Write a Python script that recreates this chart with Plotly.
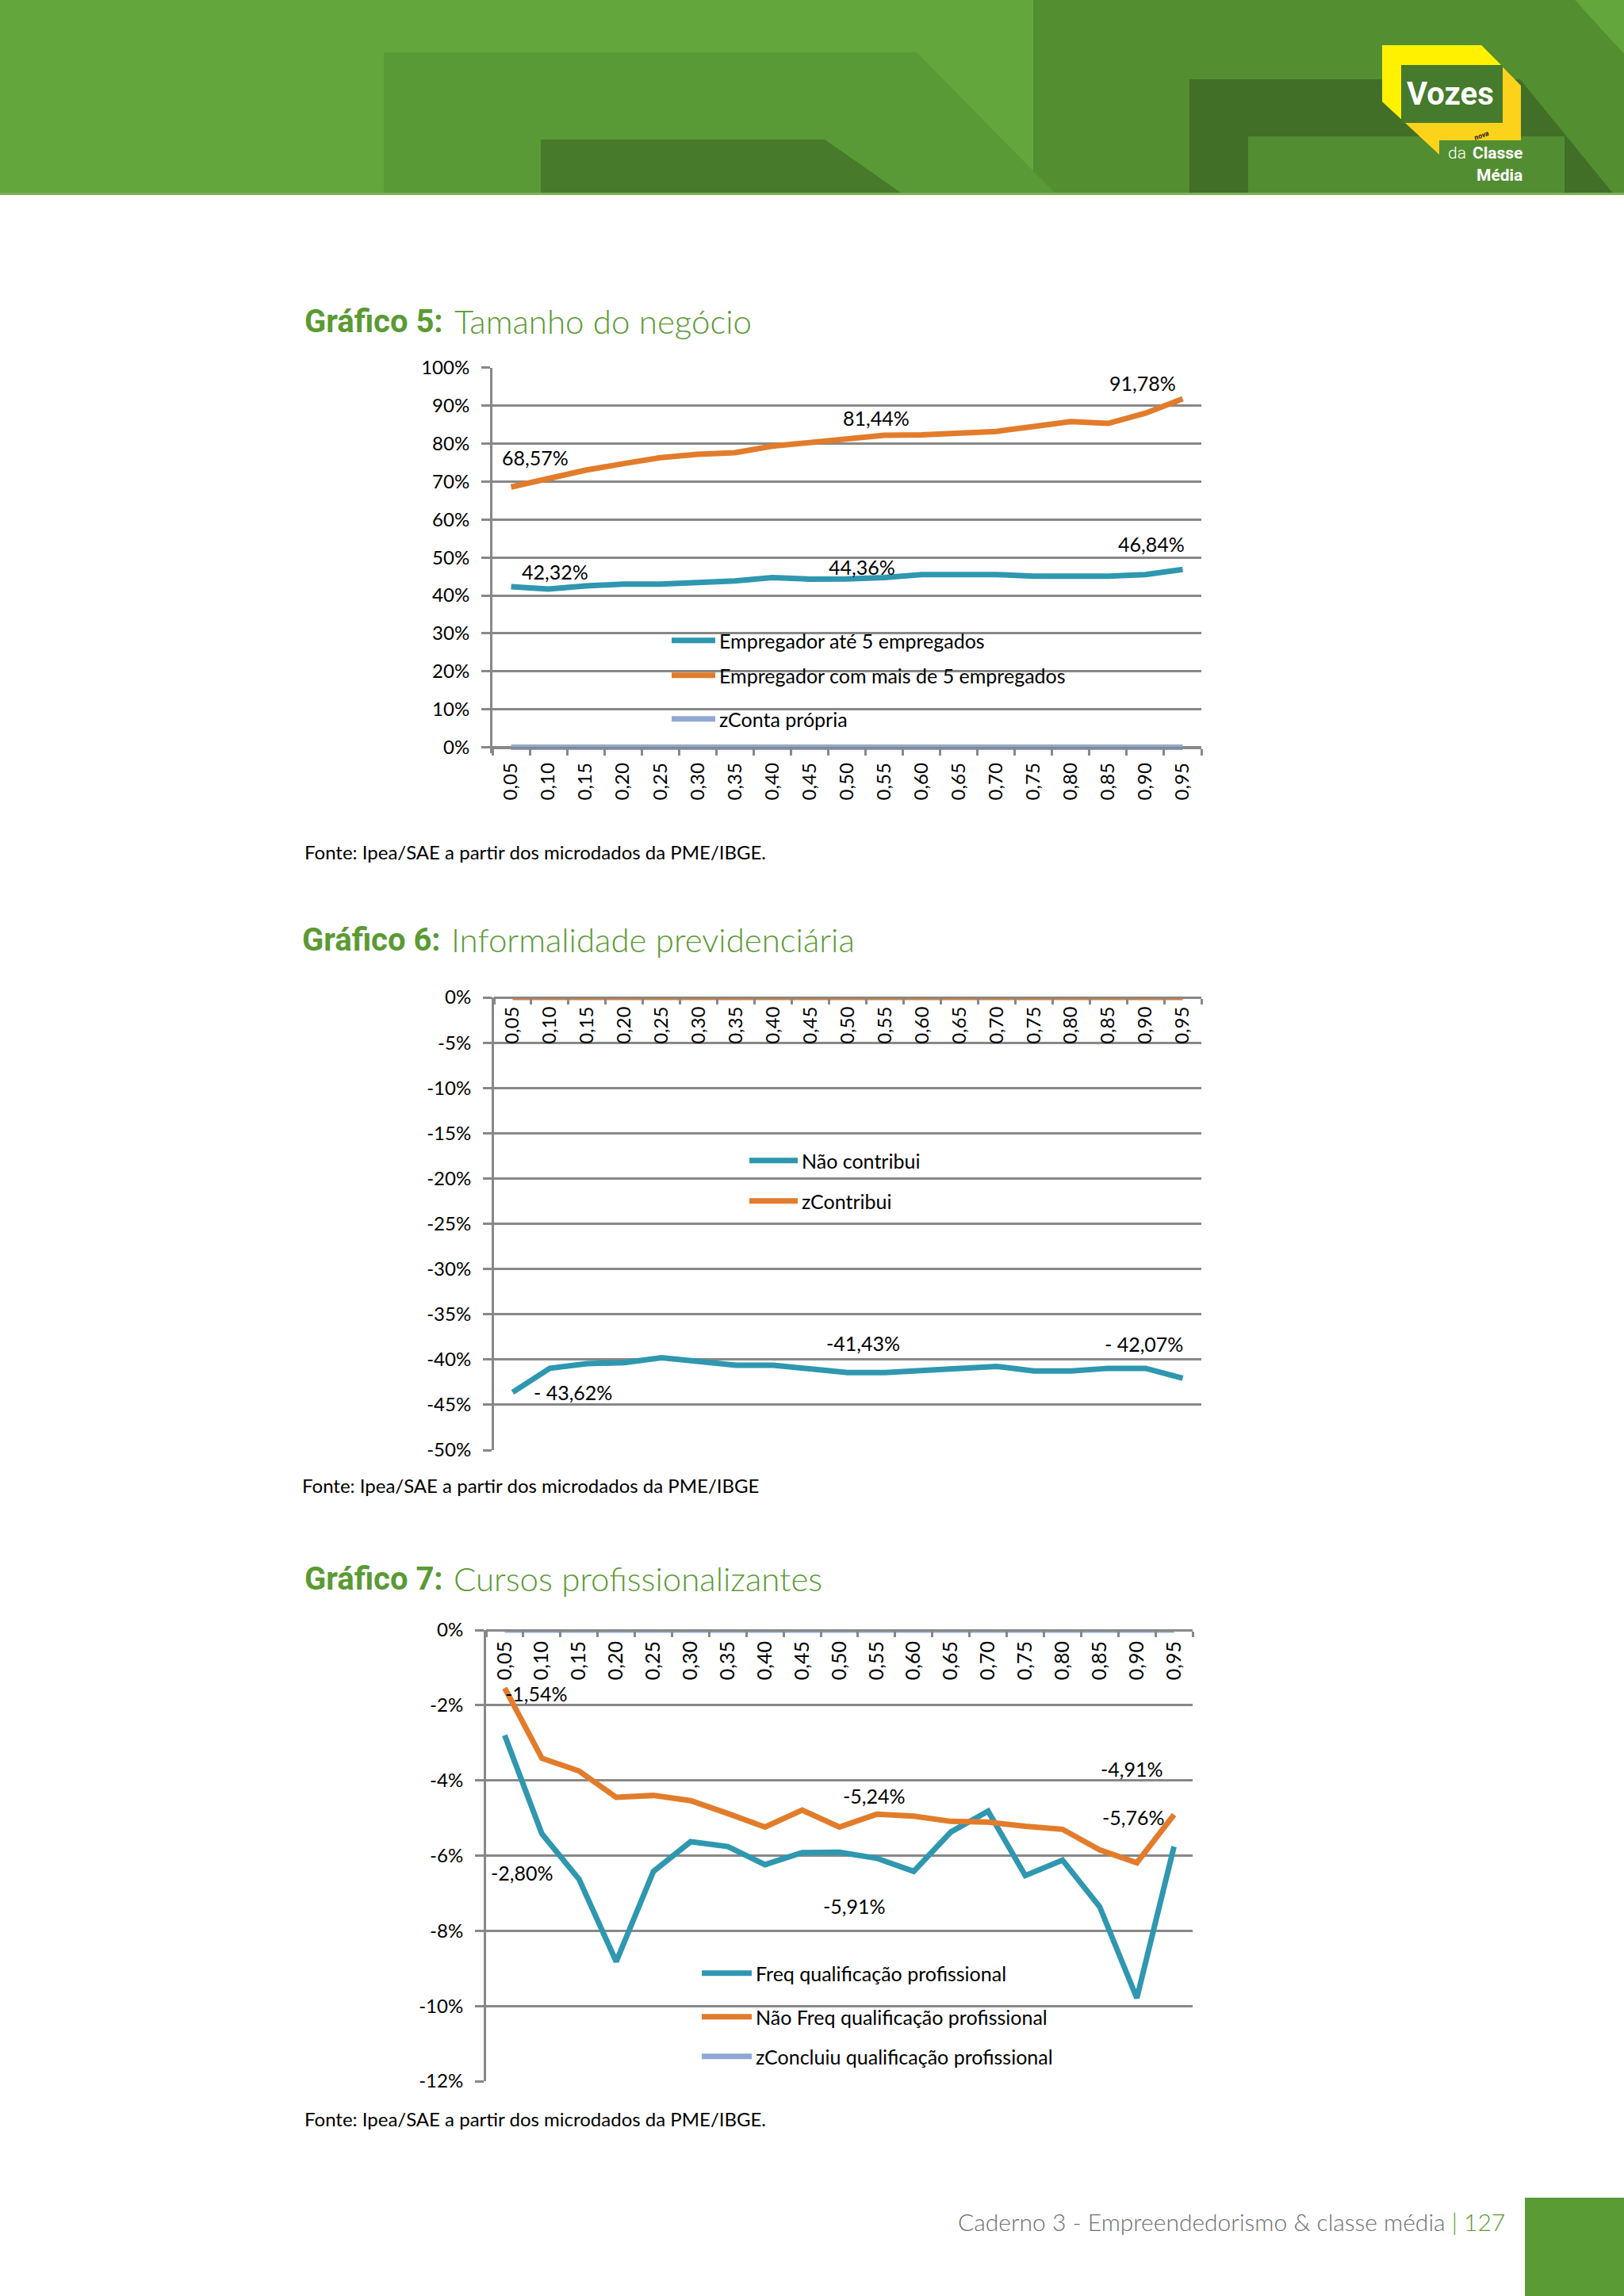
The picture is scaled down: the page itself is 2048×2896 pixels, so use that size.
import plotly.graph_objects as go

W, H = 2048, 2896


def px(x):
    return x / W


def py(y):
    return 1 - y / H


# ---------------- data ----------------
cats = ["0,05", "0,10", "0,15", "0,20", "0,25", "0,30", "0,35", "0,40", "0,45", "0,50",
        "0,55", "0,60", "0,65", "0,70", "0,75", "0,80", "0,85", "0,90", "0,95"]

# Gráfico 5
g5_ate5 = [42.32, 41.7, 42.5, 43.0, 43.0, 43.4, 43.8, 44.7, 44.3, 44.36,
           44.7, 45.5, 45.5, 45.5, 45.1, 45.1, 45.1, 45.5, 46.84]
g5_mais5 = [68.57, 70.9, 73.0, 74.7, 76.3, 77.2, 77.6, 79.3, 80.2, 81.44,
            82.2, 82.3, 82.7, 83.2, 84.5, 85.8, 85.3, 88.0, 91.78]
g5_conta = [0, 0, 0, 0, 0, 0, 0, 0, 0, 0, 0, 0, 0, 0, 0, 0, 0, 0, 0]
g5_ticks = [0, 10, 20, 30, 40, 50, 60, 70, 80, 90, 100]
g5_ticktext = ["0%", "10%", "20%", "30%", "40%", "50%", "60%", "70%", "80%", "90%", "100%"]

# Gráfico 6
g6_nao = [-43.62, -40.97, -40.46, -40.34, -39.8, -40.2, -40.63, -40.63, -40.97, -41.43,
          -41.43, -41.18, -40.97, -40.76, -41.26, -41.26, -40.97, -40.97, -42.07]
g6_contribui = [0, 0, 0, 0, 0, 0, 0, 0, 0, 0, 0, 0, 0, 0, 0, 0, 0, 0, 0]
g6_ticks = [0, -5, -10, -15, -20, -25, -30, -35, -40, -45, -50]
g6_ticktext = ["0%", "-5%", "-10%", "-15%", "-20%", "-25%", "-30%", "-35%", "-40%", "-45%", "-50%"]

# Gráfico 7
g7_freq = [-2.80, -5.42, -6.63, -8.82, -6.42, -5.63, -5.76, -6.24, -5.92, -5.91,
           -6.07, -6.42, -5.37, -4.82, -6.53, -6.12, -7.36, -9.79, -5.76]
g7_naofreq = [-1.54, -3.41, -3.75, -4.45, -4.40, -4.54, -4.88, -5.24, -4.79, -5.24,
              -4.90, -4.95, -5.09, -5.11, -5.22, -5.30, -5.85, -6.19, -4.91]
g7_concluiu = [0, 0, 0, 0, 0, 0, 0, 0, 0, 0, 0, 0, 0, 0, 0, 0, 0, 0, 0]
g7_ticks = [0, -2, -4, -6, -8, -10, -12]
g7_ticktext = ["0%", "-2%", "-4%", "-6%", "-8%", "-10%", "-12%"]

# ---------------- style ----------------
TEAL = "#2F97B0"
ORANGE = "#E27C2B"
LBLUE = "#8FA9D3"
GRAY = "#888888"
GREEN = "#5A9A33"
FONT = "Lato, 'Open Sans', sans-serif"
LW = 7

fig = go.Figure()


def add_line(y, color, name, xa, ya, legend):
    fig.add_trace(go.Scatter(
        x=cats, y=y, mode="lines", name=name,
        line=dict(color=color, width=LW, shape="linear"),
        xaxis=xa, yaxis=ya, legend=legend, hoverinfo="skip"))


add_line(g5_ate5, TEAL, "Empregador até 5 empregados", "x", "y", "legend")
add_line(g5_mais5, ORANGE, "Empregador com mais de 5 empregados", "x", "y", "legend2")
add_line(g5_conta, LBLUE, "zConta própria", "x", "y", "legend3")

add_line(g6_nao, TEAL, "Não contribui", "x2", "y2", "legend4")
add_line(g6_contribui, ORANGE, "zContribui", "x2", "y2", "legend5")

add_line(g7_freq, TEAL, "Freq qualificação profissional", "x3", "y3", "legend6")
add_line(g7_naofreq, ORANGE, "Não Freq qualificação profissional", "x3", "y3", "legend7")
add_line(g7_concluiu, LBLUE, "zConcluiu qualificação profissional", "x3", "y3", "legend8")

tickfont = dict(family=FONT, size=24, color="#000000")

common_x = dict(type="category", range=[-0.5, 18.5], tickson="boundaries",
                tickwidth=3, tickcolor=GRAY, ticklen=8, showline=True,
                linecolor=GRAY, linewidth=3, showgrid=False, tickangle=-90,
                tickfont=tickfont, zeroline=False, fixedrange=True,
                anchor="free", side="bottom", ticks="outside", automargin=False)
common_y = dict(showgrid=True, gridcolor=GRAY, gridwidth=3, ticks="outside",
                ticklen=11, tickwidth=3, tickcolor=GRAY, showline=True,
                linecolor=GRAY, linewidth=3, zeroline=False, tickfont=tickfont,
                ticklabelstandoff=10, fixedrange=True, automargin=False)

fig.update_layout(
    xaxis=dict(common_x, domain=[px(621), px(1515)], position=py(942.6),
               ticklabelstandoff=8),
    yaxis=dict(common_y, domain=[py(949.8), py(463.7)], range=[-1.5, 100],
               tickvals=g5_ticks, ticktext=g5_ticktext, anchor="x"),
    xaxis2=dict(common_x, domain=[px(623), px(1515)], position=py(1258),
                ticklen=7, ticklabelstandoff=0),
    yaxis2=dict(common_y, domain=[py(1829), py(1258)], range=[-50, 0],
                tickvals=g6_ticks, ticktext=g6_ticktext, anchor="x2"),
    xaxis3=dict(common_x, domain=[px(613), px(1504)], position=py(2056),
                ticklen=7, ticklabelstandoff=2, tickfont=dict(tickfont, size=25)),
    yaxis3=dict(common_y, domain=[py(2625), py(2056)], range=[-12, 0],
                tickvals=g7_ticks, ticktext=g7_ticktext, anchor="x3"),
)

# legends: one per series, positioned like the reference (x, y, symbol width)
legend_pos = {
    "legend": (842, 808, 55), "legend2": (842, 852, 55), "legend3": (842, 907, 55),
    "legend4": (940, 1464, 61), "legend5": (940, 1515, 61),
    "legend6": (880, 2489, 63), "legend7": (880, 2544, 63), "legend8": (880, 2594, 63),
}
for key, (lx, ly, iw) in legend_pos.items():
    fig.update_layout({key: dict(x=px(lx), y=py(ly), xanchor="left", yanchor="middle",
                                 bgcolor="rgba(0,0,0,0)", borderwidth=0,
                                 font=dict(family=FONT, size=25, color="#000000"),
                                 itemwidth=iw, itemclick=False, itemdoubleclick=False)})


def fmt(v, spaced=False):
    s = f"{v:.2f}%".replace(".", ",")
    if spaced and s.startswith("-"):
        s = "- " + s[1:]
    return s


annots = []


def label(series, idx, xa, ya, dx, dy, spaced=False):
    annots.append(dict(x=cats[idx], y=series[idx], xref=xa, yref=ya, text=fmt(series[idx], spaced),
                       showarrow=False, xshift=dx, yshift=dy,
                       font=dict(family=FONT, size=25, color="#000000")))


# Gráfico 5 labels
label(g5_mais5, 0, "x", "y", 30, 37)
label(g5_mais5, 9, "x", "y", 37, 26)
label(g5_mais5, 18, "x", "y", -50, 20)
label(g5_ate5, 0, "x", "y", 55, 19)
label(g5_ate5, 9, "x", "y", 19, 15)
label(g5_ate5, 18, "x", "y", -39, 32)
# Gráfico 6 labels
label(g6_nao, 0, "x2", "y2", 76, 0, spaced=True)
label(g6_nao, 9, "x2", "y2", 19, 37)
label(g6_nao, 18, "x2", "y2", -49, 43, spaced=True)
# Gráfico 7 labels
label(g7_naofreq, 0, "x3", "y3", 40, -7)
label(g7_freq, 0, "x3", "y3", 22, -173)
label(g7_naofreq, 9, "x3", "y3", 44, 39)
label(g7_freq, 9, "x3", "y3", 19, -68)
label(g7_naofreq, 18, "x3", "y3", -53, 58)
label(g7_freq, 18, "x3", "y3", -51, 37)

# titles
titles = [
    ("Gráfico 5:", "Tamanho do negócio", 382, 405, 571),
    ("Gráfico 6:", "Informalidade previdenciária", 379, 1185, 567),
    ("Gráfico 7:", "Cursos profissionalizantes", 382, 1991, 570),
]
for bold, thin, tx, ty, tx2 in titles:
    annots.append(dict(x=px(tx), y=py(ty), xref="paper", yref="paper", text="<b>" + bold + "</b>",
                       showarrow=False, xanchor="left", yanchor="middle",
                       font=dict(family="Roboto, 'Noto Sans', sans-serif", size=40, color=GREEN)))
    annots.append(dict(x=px(tx2), y=py(ty), xref="paper", yref="paper", text=thin,
                       showarrow=False, xanchor="left", yanchor="middle",
                       font=dict(family=FONT, size=42, color=GREEN, weight=300)))

# sources
sources = [
    ("Fonte: Ipea/SAE a partir dos microdados da PME/IBGE.", 382, 1075),
    ("Fonte: Ipea/SAE a partir dos microdados da PME/IBGE", 379, 1873),
    ("Fonte: Ipea/SAE a partir dos microdados da PME/IBGE.", 382, 2672),
]
for txt, sx, sy in sources:
    annots.append(dict(x=px(sx), y=py(sy), xref="paper", yref="paper", text=txt,
                       showarrow=False, xanchor="left", yanchor="middle",
                       font=dict(family=FONT, size=24, color="#000000")))

# footer text
annots.append(dict(x=px(1900), y=py(2802), xref="paper", yref="paper",
                   text="Caderno 3 - Empreendedorismo &amp; classe média <span style='color:#5A9A33'>| 127</span>",
                   showarrow=False, xanchor="right", yanchor="middle",
                   font=dict(family=FONT, size=30, color="#6E6E6E", weight=300)))

# logo texts
annots.append(dict(x=px(1829), y=py(118), xref="paper", yref="paper", text="<b>Vozes</b>",
                   showarrow=False, xanchor="center", yanchor="middle", borderpad=0,
                   font=dict(family="Roboto, sans-serif", size=40, color="#FFFFFF")))
annots.append(dict(x=px(1850), y=py(193), xref="paper", yref="paper", text="da",
                   showarrow=False, xanchor="right", yanchor="middle", borderpad=0,
                   font=dict(family="Roboto, sans-serif", size=21, color="#FFFFFF", weight=300)))
annots.append(dict(x=px(1921), y=py(193), xref="paper", yref="paper", text="<b>Classe</b>",
                   showarrow=False, xanchor="right", yanchor="middle", borderpad=0,
                   font=dict(family="Roboto, sans-serif", size=21, color="#FFFFFF")))
annots.append(dict(x=px(1921), y=py(221), xref="paper", yref="paper", text="<b>Média</b>",
                   showarrow=False, xanchor="right", yanchor="middle", borderpad=0,
                   font=dict(family="Roboto, sans-serif", size=21, color="#FFFFFF")))
annots.append(dict(x=px(1868), y=py(171), xref="paper", yref="paper", text="<i><b>nova</b></i>",
                   showarrow=False, xanchor="center", yanchor="middle", textangle=-20, borderpad=0,
                   font=dict(family="Roboto, sans-serif", size=9, color="#1A1A1A")))

fig.update_layout(annotations=annots)


# ---------------- decorative header / footer shapes ----------------
def poly(points, color):
    path = "M " + " L ".join(f"{px(x)},{py(y)}" for x, y in points) + " Z"
    return dict(type="path", path=path, xref="paper", yref="paper",
                fillcolor=color, line=dict(width=0), layer="below")


shapes = [
    poly([(0, 0), (2048, 0), (2048, 245), (0, 245)], "#63A63C"),
    poly([(1303, 0), (1986, 0), (2048, 68), (2048, 245), (1303, 245)], "#538E31"),
    poly([(484, 66), (1156, 66), (1332, 245), (484, 245)], "#5A9A36"),
    poly([(682, 176), (1040, 176), (1139, 245), (682, 245)], "#477A2B"),
    poly([(1500, 100), (1917, 100), (2035, 245), (1500, 245)], "#416F27"),
    poly([(1574, 172), (1973, 172), (1973, 245), (1574, 245)], "#538D31"),
    poly([(0, 243), (2048, 243), (2048, 246), (0, 246)], "#7DB157"),
    # logo
    poly([(1743, 57), (1868, 57), (1918, 108), (1918, 177), (1815, 177), (1815, 195), (1743, 128)], "#FCD31A"),
    poly([(1743, 57), (1868, 57), (1893, 82), (1767, 82), (1767, 150), (1743, 128)], "#FFF100"),
    poly([(1767, 82), (1895, 82), (1895, 155), (1767, 155)], "#467A2C"),
    # footer block
    poly([(1923, 2772), (2048, 2772), (2048, 2896), (1923, 2896)], "#5B9B35"),
]
fig.update_layout(shapes=shapes)

fig.update_layout(
    width=W, height=H, margin=dict(l=0, r=0, t=0, b=0, autoexpand=False),
    paper_bgcolor="#FFFFFF", plot_bgcolor="rgba(0,0,0,0)",
    showlegend=True, font=dict(family=FONT, color="#000000"),
)

pin_page = (
    "document.documentElement.style.margin='0';"
    "document.documentElement.style.overflow='hidden';"
    "document.body.style.margin='0';"
    "document.body.style.overflow='hidden';"
    "var gd=document.getElementById('{plot_id}');"
    "gd.style.position='fixed';gd.style.left='0px';gd.style.top='0px';"
)

fig.write_html("out.html", post_script=pin_page, config={"displayModeBar": False})
